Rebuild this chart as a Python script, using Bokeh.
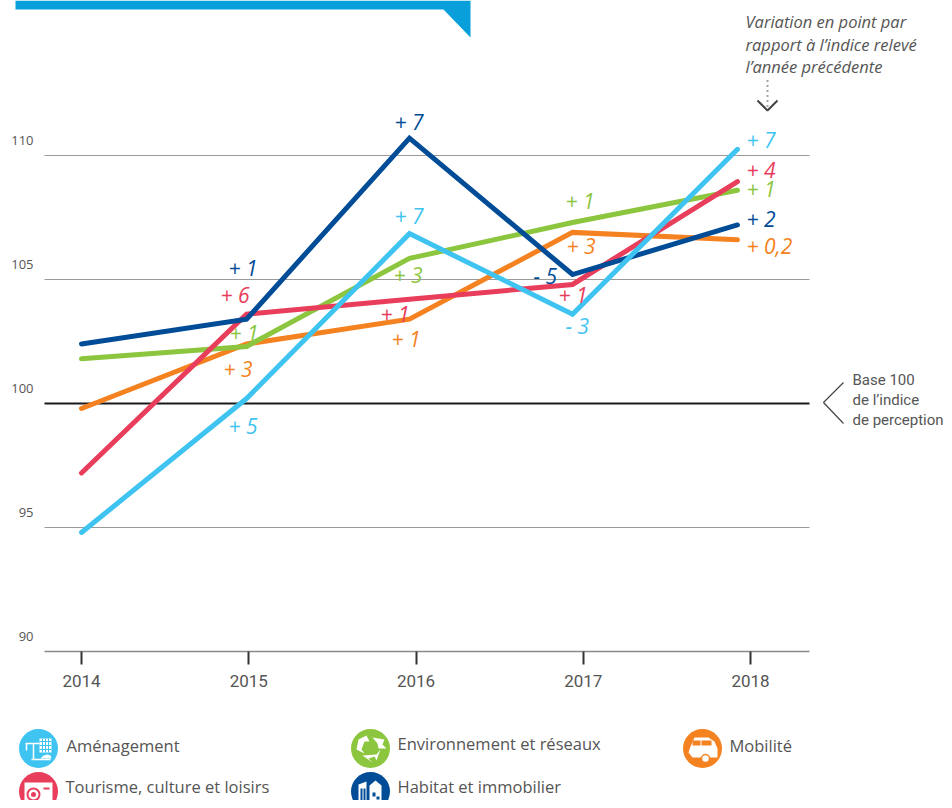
from bokeh.plotting import figure
from bokeh.layouts import column
from bokeh.models import FixedTicker, Range1d
from bokeh.core.properties import value
from bokeh.embed import file_html
from bokeh.resources import INLINE

# ---- data ----
years = [2014, 2015, 2016, 2017, 2018]
point_years = [2014.0, 2014.987, 2015.961, 2016.936, 2017.922]
y_ticks = [90, 95, 100, 105, 110]
grid_ticks = [95, 105, 110]
cyan_vals = [94.8, 100.2, 106.85, 103.6, 110.25]
red_vals = [97.2, 103.6, 104.2, 104.8, 108.95]
green_vals = [101.8, 102.3, 105.85, 107.3, 108.6]
navy_vals = [102.4, 103.4, 110.7, 105.2, 107.2]
orange_vals = [99.8, 102.4, 103.4, 106.9, 106.6]
CYAN, RED, GREEN, NAVY, ORANGE = "#3FC4F1", "#E83D5B", "#8CC63F", "#004C97", "#F58220"
GREY_TEXT = "#555555"
BAR = "#089FDB"

# page layout (pixels of the picture)
W, H_TOP, H_LEG = 944, 700, 100
F_B = 651
PX_YEAR, X0 = 167.25, 81
PX_UNIT, Y100 = 24.8, 403
def dx(px): return 2014 + (px - X0) / PX_YEAR
def dy(py): return 100 + (Y100 - py) / PX_UNIT

p = figure(width=W, height=H_TOP, output_backend="svg", toolbar_location=None,
           x_range=Range1d(dx(0), dx(W)), y_range=Range1d(dy(F_B), dy(0)),
           min_border_left=0, min_border_right=0, min_border_top=0, min_border_bottom=H_TOP - F_B)
p.outline_line_color = None
p.yaxis.visible = False
p.grid.visible = False
ax = p.xaxis[0]
ax.ticker = FixedTicker(ticks=years)
ax.bounds = (dx(44), dx(809))
ax.axis_line_color = "#8a8a8a"
ax.axis_line_width = 1.5
ax.major_tick_line_color = "#333333"
ax.major_tick_line_width = 2
ax.major_tick_out = 13
ax.major_tick_in = 0
ax.minor_tick_out = 0
ax.minor_tick_in = 0
ax.major_label_standoff = 10
ax.major_label_text_font = "Roboto"
ax.major_label_text_font_size = "17px"
ax.major_label_text_color = GREY_TEXT

# grid and base-100 line
p.segment([dx(44)] * 3, grid_ticks, [dx(809)] * 3, grid_ticks, line_color="#9a9a9a", line_width=1)
p.segment([dx(44)], [100], [dx(809)], [100], line_color="#1a1a1a", line_width=2)
# y labels
p.text([dx(33)] * 5, y_ticks, text=[str(t) for t in y_ticks], y_offset=-15, text_align="right",
       text_baseline="middle", text_font=value("Open Sans"), text_font_size="13px", text_color=GREY_TEXT)
# banner
p.patch([dx(15), dx(470), dx(470), dx(443), dx(15)], [dy(0), dy(0), dy(37), dy(9), dy(9)], color=BAR, line_width=0)

# series
for vals, c in [(orange_vals, ORANGE), (green_vals, GREEN), (red_vals, RED), (navy_vals, NAVY), (cyan_vals, CYAN)]:
    p.line(point_years, vals, line_color=c, line_width=5, line_join="miter", line_cap="round")

labels = [
    ("+ 7", 746, 139, CYAN), ("+ 4", 746, 169, RED), ("+ 1", 746, 188, GREEN), ("+ 2", 746, 218, NAVY), ("+ 0,2", 746, 245, ORANGE),
    ("+ 1", 228, 267, NAVY), ("+ 6", 220, 294, RED), ("+ 1", 229, 332, GREEN), ("+ 3", 223, 368, ORANGE), ("+ 5", 228, 425, CYAN),
    ("+ 7", 394, 121, NAVY), ("+ 7", 394, 215, CYAN), ("+ 3", 393, 274, GREEN), ("+ 1", 380, 313, RED), ("+ 1", 391, 338, ORANGE),
    ("+ 1", 565, 200, GREEN), ("+ 3", 566, 245, ORANGE), ("- 5", 533, 275, NAVY), ("+ 1", 558, 294, RED), ("- 3", 565, 325, CYAN),
]
for t, px, py, c in labels:
    p.text([dx(px)], [dy(py)], text=[t], text_color=c, text_font=value("Open Sans"), text_font_size="21px",
           text_font_style="italic", text_baseline="alphabetic")

# notes
for t, py in [("Variation en point par", 21), ("rapport à l’indice relevé", 44), ("l’année précédente", 66)]:
    p.text([dx(745)], [dy(py)], text=[t], text_color=GREY_TEXT, text_font=value("Open Sans"), text_font_size="16.5px",
           text_font_style="italic", text_baseline="alphabetic")
p.line([dx(767), dx(767)], [dy(80), dy(108)], line_color="#444444", line_width=2, line_dash="1 4")
p.line([dx(757), dx(767), dx(777)], [dy(100), dy(110), dy(100)], line_color="#444444", line_width=2)
for t, py in [("Base 100", 379), ("de l’indice", 399), ("de perception", 419)]:
    p.text([dx(852)], [dy(py)], text=[t], text_color=GREY_TEXT, text_font=value("Roboto"), text_font_size="15px",
           text_baseline="alphabetic")
p.line([dx(843), dx(823), dx(843)], [dy(382), dy(402), dy(423)], line_color="#444444", line_width=1.2)

# ---- legend panel ----
q = figure(width=W, height=H_LEG, output_backend="svg", toolbar_location=None,
           x_range=Range1d(0, W), y_range=Range1d(H_TOP + H_LEG, H_TOP),
           min_border_left=0, min_border_right=0, min_border_top=0, min_border_bottom=0)
q.outline_line_color = None
q.xaxis.visible = False
q.yaxis.visible = False
q.grid.visible = False
legend_names = ["Aménagement", "Tourisme, culture et loisirs", "Environnement et réseaux", "Habitat et immobilier", "Mobilité"]
legend_cols = [CYAN, RED, GREEN, NAVY, ORANGE]
icon_x = [38, 38, 370, 370, 702]
icon_y = [748, 791, 748, 791, 748]
text_x = [66, 65, 397, 397, 729]
text_y = [745, 786, 743, 786, 745]
q.circle(icon_x, icon_y, radius=19.5, color=legend_cols, line_width=0)
for t, x, y in zip(legend_names, text_x, text_y):
    q.text([x], [y], text=[t], text_color=GREY_TEXT, text_font=value("Open Sans"), text_font_size="16.5px",
           text_baseline="alphabetic")

W_ = "white"
# crane and building
q.quad(left=[39], right=[51], top=[738], bottom=[752], color=W_, line_width=0)
q.multi_line([[42, 42], [45, 45], [48, 48], [39, 51], [39, 51], [39, 51]],
             [[738, 752], [738, 752], [738, 752], [741, 741], [745, 745], [749, 749]], line_color=CYAN, line_width=1)
q.multi_line([[25, 39], [26, 26], [33, 33], [31, 50]], [[743, 743], [743, 750], [743, 759], [759, 759]], line_color=W_, line_width=1.5)
q.patch([40, 43, 47, 50, 51, 40], [758, 755, 754, 755, 758, 758], color=W_, line_width=0)
# camera
q.quad(left=[24], right=[52], top=[782], bottom=[803], color=W_, line_width=0)
q.quad(left=[43], right=[49], top=[787], bottom=[789], color=RED, line_width=0)
q.circle([33], [794], radius=6, fill_color=W_, line_color=RED, line_width=2)
q.circle([33], [794], radius=2.5, color=RED, line_width=0)
# recycling
q.patches([[358, 366, 369, 364, 361, 364, 356], [372, 384, 382, 386, 378, 377], [362, 376, 380, 376, 374, 368, 372]],
          [[739, 735, 741, 741, 749, 753, 749], [737, 739, 744, 748, 748, 743], [755, 754, 749, 760, 756, 758, 762]], color=W_, line_width=0)
# houses
q.patch([358, 366, 366, 358], [784, 781, 804, 804], color=W_, line_width=0)
q.patch([369, 375, 381, 381, 369], [785, 780, 785, 804, 804], color=W_, line_width=0)
q.quad(left=[360, 363, 372, 376], right=[362, 365, 375, 379], top=[788, 788, 792, 796], bottom=[800, 800, 796, 799], color=NAVY, line_width=0)
# caravan
q.patch([690, 694, 708, 714, 717, 717, 692, 688], [746, 737, 737, 741, 748, 757, 757, 752], color=W_, line_width=0)
q.quad(left=[692, 701], right=[700, 711], top=[740, 740], bottom=[745, 745], color=ORANGE, line_width=0)
q.circle([705], [758], radius=4, fill_color=W_, line_color=ORANGE, line_width=1.5)

page = column(p, q, spacing=0, margin=(0, -8, -8, 0))
open("out.html", "w").write(file_html(page, INLINE))
